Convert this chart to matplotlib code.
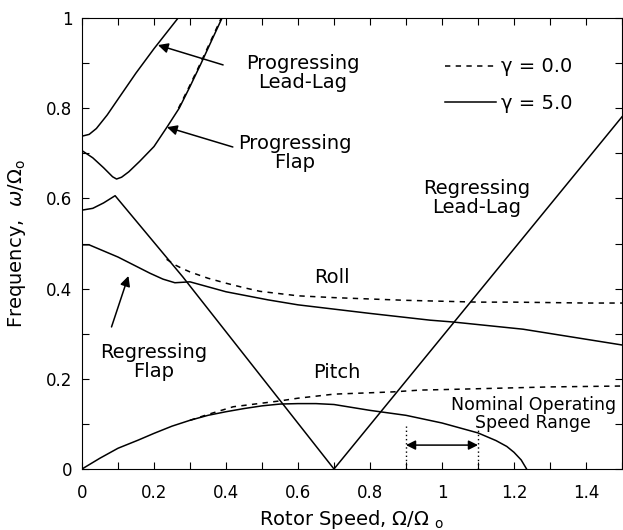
import numpy as np
import matplotlib
matplotlib.use("Agg")
import matplotlib.pyplot as plt
from matplotlib.ticker import MultipleLocator, FuncFormatter

plt.rcParams["font.family"] = ["DejaVu Sans"]
plt.rcParams["mathtext.fontset"] = "dejavusans"

# --- modal frequencies, gamma = 5.0 (solid) ---
prog_lag_x = [0.0, 0.02, 0.04, 0.07, 0.10, 0.15, 0.20, 0.267]
prog_lag_y = [0.738, 0.742, 0.755, 0.785, 0.820, 0.878, 0.932, 1.0]

prog_flap_x = [0.0, 0.03, 0.06, 0.085, 0.096, 0.11, 0.13, 0.16, 0.20, 0.236, 0.27, 0.30, 0.33, 0.36, 0.389]
prog_flap_y = [0.706, 0.690, 0.668, 0.648, 0.643, 0.647, 0.659, 0.682, 0.715, 0.758, 0.800, 0.848, 0.898, 0.950, 1.0]

reg_lag_x = [0.0, 0.03, 0.06, 0.092, 0.28, 0.70, 1.50]
reg_lag_y = [0.574, 0.578, 0.590, 0.606, 0.426, 0.0, 0.781]

roll_x = [0.0, 0.02, 0.1, 0.189, 0.225, 0.258, 0.30, 0.40, 0.517, 0.60, 0.80, 0.967, 1.03, 1.225, 1.50]
roll_y = [0.497, 0.497, 0.470, 0.434, 0.421, 0.413, 0.415, 0.393, 0.375, 0.364, 0.345, 0.330, 0.326, 0.310, 0.275]

pitch_x = [0.0, 0.05, 0.1, 0.156, 0.2, 0.25, 0.3, 0.35, 0.4, 0.45, 0.5, 0.55, 0.6, 0.65, 0.7,
           0.8, 0.9, 1.0, 1.1, 1.15, 1.18, 1.2, 1.22, 1.235]
pitch_y = [0.0, 0.024, 0.046, 0.064, 0.079, 0.095, 0.108, 0.119, 0.127, 0.134, 0.140, 0.144, 0.145, 0.145, 0.143,
           0.130, 0.119, 0.102, 0.080, 0.063, 0.050, 0.037, 0.020, 0.0]

# --- modal frequencies, gamma = 0.0 (dashed), where they split from gamma = 5.0 ---
roll0_x = [0.235, 0.26, 0.277, 0.30, 0.35, 0.40, 0.45, 0.494, 0.60, 0.70, 0.80, 0.90, 1.0, 1.1, 1.2, 1.3, 1.4, 1.5]
roll0_y = [0.465, 0.452, 0.445, 0.437, 0.423, 0.412, 0.402, 0.394, 0.384, 0.380, 0.377, 0.374, 0.372, 0.370, 0.370, 0.369, 0.368, 0.368]

pitch0_x = [0.3, 0.35, 0.42, 0.5, 0.55, 0.6, 0.7, 0.8, 0.864, 0.94, 1.0, 1.1, 1.2, 1.3, 1.4, 1.5]
pitch0_y = [0.108, 0.121, 0.138, 0.146, 0.151, 0.157, 0.166, 0.169, 0.171, 0.175, 0.176, 0.178, 0.180, 0.182, 0.183, 0.184]

flap0_x = [0.268, 0.298, 0.328, 0.358, 0.387]
flap0_y = [0.800, 0.848, 0.898, 0.950, 1.0]

# nominal operating speed range
op_range = [0.9, 1.1]

fig = plt.figure(figsize=(6.23, 5.3), dpi=100)
ax = fig.add_axes([0.1316, 0.1151, 0.9984 - 0.1316, 0.966 - 0.1151])

lw = 1.1
dash = (0, (3.5, 3.5))
solid_kw = dict(color="black", lw=lw)
dash_kw = dict(color="black", lw=lw, linestyle=dash)

ax.plot(roll0_x, roll0_y, **dash_kw)
ax.plot(pitch0_x, pitch0_y, **dash_kw)
ax.plot(flap0_x, flap0_y, **dash_kw)
h0, = ax.plot([], [], label="γ = 0.0", **dash_kw)

h5, = ax.plot(prog_lag_x, prog_lag_y, label="γ = 5.0", **solid_kw)
ax.plot(prog_flap_x, prog_flap_y, **solid_kw)
ax.plot(reg_lag_x, reg_lag_y, **solid_kw)
ax.plot(roll_x, roll_y, **solid_kw)
ax.plot(pitch_x, pitch_y, **solid_kw)

# operating range markers
for xv in op_range:
    ax.plot([xv, xv], [0, 0.095], color="black", lw=1.0, linestyle=(0, (1, 2)))
ax.annotate("", xy=(op_range[1], 0.053), xytext=(op_range[0], 0.053),
            arrowprops=dict(arrowstyle="<|-|>", color="black", lw=1.1, mutation_scale=14,
                            shrinkA=0, shrinkB=0))

fs = 14
arrow_kw = dict(arrowstyle="-|>", color="black", lw=1.1, mutation_scale=15, shrinkA=0, shrinkB=0)
ax.annotate("", xy=(0.211, 0.94), xytext=(0.392, 0.896), arrowprops=arrow_kw)
ax.annotate("", xy=(0.236, 0.758), xytext=(0.419, 0.714), arrowprops=arrow_kw)
ax.annotate("", xy=(0.129, 0.428), xytext=(0.082, 0.315), arrowprops=arrow_kw)

ax.text(0.614, 0.878, "Progressing\nLead-Lag", ha="center", va="center", fontsize=fs, linespacing=1.0)
ax.text(0.592, 0.700, "Progressing\nFlap", ha="center", va="center", fontsize=fs, linespacing=1.0)
ax.text(0.198, 0.238, "Regressing\nFlap", ha="center", va="center", fontsize=fs, linespacing=1.0)
ax.text(1.096, 0.60, "Regressing\nLead-Lag", ha="center", va="center", fontsize=fs, linespacing=1.0)
ax.text(0.695, 0.424, "Roll", ha="center", va="center", fontsize=fs)
ax.text(0.708, 0.215, "Pitch", ha="center", va="center", fontsize=fs)
ax.text(1.253, 0.122, "Nominal Operating\nSpeed Range", ha="center", va="center",
        fontsize=12.5, linespacing=1.0)

ax.legend(handles=[h0, h5], loc="upper left", bbox_to_anchor=(0.658, 0.93),
          frameon=False, fontsize=fs, handlelength=2.6, handletextpad=0.3,
          labelspacing=0.9, borderaxespad=0)

ax.set_xlim(0, 1.5)
ax.set_ylim(0, 1)
ax.xaxis.set_major_locator(MultipleLocator(0.2))
ax.xaxis.set_minor_locator(MultipleLocator(0.1))
ax.yaxis.set_major_locator(MultipleLocator(0.2))
ax.yaxis.set_minor_locator(MultipleLocator(0.1))
fmt = FuncFormatter(lambda v, p: f"{v:g}")
ax.xaxis.set_major_formatter(fmt)
ax.yaxis.set_major_formatter(fmt)
ax.tick_params(which="both", direction="in", top=True, right=True, length=5, width=0.8)
ax.tick_params(axis="x", pad=11, labelsize=12)
ax.tick_params(axis="y", pad=7, labelsize=12)
for s in ax.spines.values():
    s.set_linewidth(0.8)

ax.set_xlabel(r"Rotor Speed, $\Omega/\Omega\ _{\rm o}$", fontsize=fs, labelpad=4)
ax.set_ylabel(r"Frequency,  $\omega/\Omega_{\rm o}$", fontsize=fs, labelpad=13)

fig.savefig("out.png", dpi=100)
